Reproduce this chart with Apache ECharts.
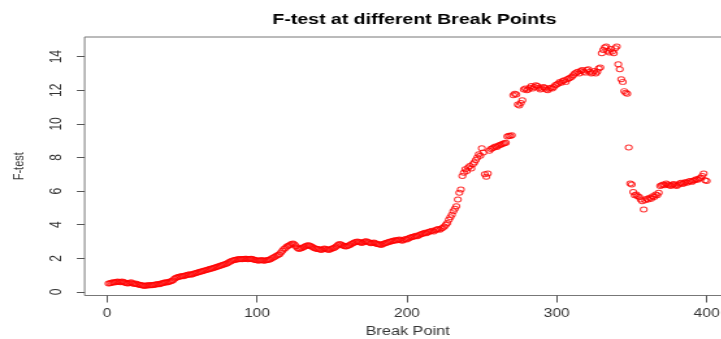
<!DOCTYPE html>
<html>
<head>
<meta charset="utf-8">
<script src="https://cdn.jsdelivr.net/npm/echarts@6/dist/echarts.min.js"></script>
<style>
  html, body { margin: 0; padding: 0; background: #fff; overflow: hidden; width: 721px; height: 339px; }
  /* the original plot was saved horizontally stretched, so the chart is drawn narrow and scaled */
  #chart { width: 562px; height: 339px; transform: scaleX(1.3); transform-origin: 0 0; }
</style>
</head>
<body>
<div id="chart"></div>
<script>
// F statistic for each break point (break point = index + 1)
const fTest = [
  0.50, 0.52, 0.55, 0.58, 0.56, 0.60, 0.62, 0.60, 0.58, 0.62,
  0.60, 0.55, 0.52, 0.50, 0.54, 0.58, 0.52, 0.48, 0.50, 0.46,
  0.44, 0.42, 0.40, 0.38, 0.36, 0.38, 0.40, 0.38, 0.42, 0.40,
  0.42, 0.44, 0.45, 0.48, 0.46, 0.50, 0.52, 0.55, 0.58, 0.56,
  0.60, 0.62, 0.65, 0.70, 0.78, 0.85, 0.88, 0.90, 0.92, 0.95,
  0.94, 0.98, 1.00, 1.02, 1.05, 1.03, 1.06, 1.10, 1.12, 1.15,
  1.18, 1.20, 1.22, 1.25, 1.28, 1.30, 1.32, 1.35, 1.38, 1.40,
  1.42, 1.45, 1.48, 1.52, 1.55, 1.58, 1.60, 1.63, 1.66, 1.70,
  1.75, 1.80, 1.85, 1.88, 1.90, 1.92, 1.94, 1.95, 1.96, 1.95,
  1.96, 1.98, 1.97, 1.95, 1.96, 1.98, 1.96, 1.92, 1.90, 1.88,
  1.86, 1.88, 1.90, 1.87, 1.86, 1.88, 1.90, 1.92, 1.95, 2.00,
  2.05, 2.10, 2.15, 2.20, 2.25, 2.35, 2.45, 2.55, 2.62, 2.70,
  2.75, 2.80, 2.85, 2.88, 2.82, 2.72, 2.62, 2.55, 2.58, 2.62,
  2.66, 2.70, 2.75, 2.78, 2.76, 2.72, 2.68, 2.62, 2.58, 2.55,
  2.56, 2.52, 2.50, 2.54, 2.58, 2.55, 2.52, 2.50, 2.54, 2.58,
  2.60, 2.65, 2.72, 2.80, 2.85, 2.82, 2.78, 2.74, 2.70, 2.72,
  2.76, 2.80, 2.85, 2.90, 2.95, 2.98, 3.00, 2.98, 2.95, 2.92,
  2.96, 3.00, 3.02, 2.98, 2.94, 2.90, 2.92, 2.95, 2.90, 2.86,
  2.84, 2.82, 2.80, 2.85, 2.88, 2.92, 2.95, 2.98, 3.00, 3.02,
  3.05, 3.08, 3.06, 3.10, 3.12, 3.08, 3.05, 3.10, 3.15, 3.12,
  3.18, 3.22, 3.25, 3.28, 3.30, 3.35, 3.32, 3.38, 3.42, 3.45,
  3.48, 3.52, 3.50, 3.55, 3.58, 3.62, 3.65, 3.60, 3.68, 3.72,
  3.75, 3.70, 3.78, 3.82, 3.90, 4.00, 4.10, 4.30, 4.45, 4.60,
  4.80, 4.95, 5.10, 5.50, 5.90, 6.10, 6.90, 7.10, 7.30, 7.20,
  7.40, 7.50, 7.35, 7.60, 7.70, 7.85, 8.00, 8.20, 8.10, 8.55,
  8.30, 7.00, 6.85, 7.05, 8.40, 8.50, 8.55, 8.60, 8.65, 8.62,
  8.70, 8.75, 8.78, 8.82, 8.85, 8.88, 9.25, 9.30, 9.28, 9.32,
  11.70, 11.80, 11.75, 11.15, 11.10, 11.25, 11.40, 12.05, 12.10, 12.00,
  12.05, 12.15, 12.25, 12.10, 12.20, 12.30, 12.25, 12.15, 12.05, 12.10,
  12.20, 12.15, 12.05, 12.00, 12.10, 12.15, 12.10, 12.20, 12.30, 12.35,
  12.40, 12.50, 12.45, 12.55, 12.60, 12.50, 12.65, 12.70, 12.75, 12.80,
  12.90, 13.00, 13.05, 13.10, 13.00, 13.15, 13.20, 13.10, 13.05, 13.20,
  13.25, 13.10, 13.00, 13.05, 13.15, 13.00, 13.10, 13.30, 13.35, 14.20,
  14.40, 14.55, 14.60, 14.35, 14.25, 14.45, 14.30, 14.20, 14.50, 14.60,
  13.55, 13.25, 12.65, 12.50, 11.95, 11.85, 11.80, 8.60, 6.45, 6.40,
  5.95, 5.75, 5.80, 5.70, 5.65, 5.50, 5.40, 4.90, 5.45, 5.55,
  5.50, 5.60, 5.55, 5.70, 5.65, 5.80, 5.75, 5.90, 6.30, 6.35,
  6.40, 6.35, 6.45, 6.40, 6.35, 6.30, 6.38, 6.42, 6.35, 6.30,
  6.38, 6.45, 6.50, 6.42, 6.48, 6.55, 6.50, 6.58, 6.60, 6.55,
  6.62, 6.65, 6.70, 6.68, 6.75, 6.80, 6.90, 7.05, 6.65, 6.60
];
const xTicks = [0, 100, 200, 300, 400];
const yTicks = [0, 2, 4, 6, 8, 10, 12, 14];

// open circle with transparent fill so overlapping marks stay visible
const ring = "path://M0,5a5,5 0 1,0 10,0a5,5 0 1,0 -10,0z";
const font = "Liberation Sans, Arial, sans-serif";

const chart = echarts.init(document.getElementById("chart"));

chart.setOption({
  animation: false,
  title: {
    text: "F-test at different Break Points",
    left: 313.8,
    top: 7,
    textAlign: "center",
    textStyle: { fontFamily: font, fontSize: 15, fontWeight: "bold", color: "#000" },
  },
  grid: {
    left: 65.1,
    top: 37,
    right: 0,
    bottom: 43.5,
    outerBoundsMode: "none",
    show: true,
    borderColor: "#777",
    borderWidth: 1,
  },
  xAxis: {
    type: "value",
    min: -14.96,
    max: 415.96,
    name: "Break Point",
    nameLocation: "middle",
    nameGap: 30,
    nameTextStyle: { fontFamily: font, fontSize: 12.5, color: "#333" },
    axisLine: { show: false, onZero: false },
    axisTick: { show: true, customValues: xTicks, length: 7, lineStyle: { color: "#555" } },
    axisLabel: { customValues: xTicks, margin: 12, fontFamily: font, fontSize: 12, color: "#333" },
    splitLine: { show: false },
  },
  yAxis: {
    type: "value",
    min: -0.21,
    max: 15.17,
    name: "F-test",
    nameLocation: "middle",
    nameGap: 45,
    nameRotate: 90,
    nameTextStyle: { fontFamily: font, fontSize: 11, color: "#333" },
    axisLine: { show: false, onZero: false },
    axisTick: { show: true, customValues: yTicks, length: 6, lineStyle: { color: "#555" } },
    axisLabel: { customValues: yTicks, rotate: 90, margin: 15, fontFamily: font, fontSize: 12, color: "#333" },
    splitLine: { show: false },
  },
  series: [
    {
      type: "scatter",
      symbol: ring,
      symbolSize: [5.2, 5],
      data: fTest.map((v, i) => [i + 1, v]),
      itemStyle: { color: "transparent", borderColor: "#ff0000", borderWidth: 1 },
    },
  ],
});
</script>
</body>
</html>
